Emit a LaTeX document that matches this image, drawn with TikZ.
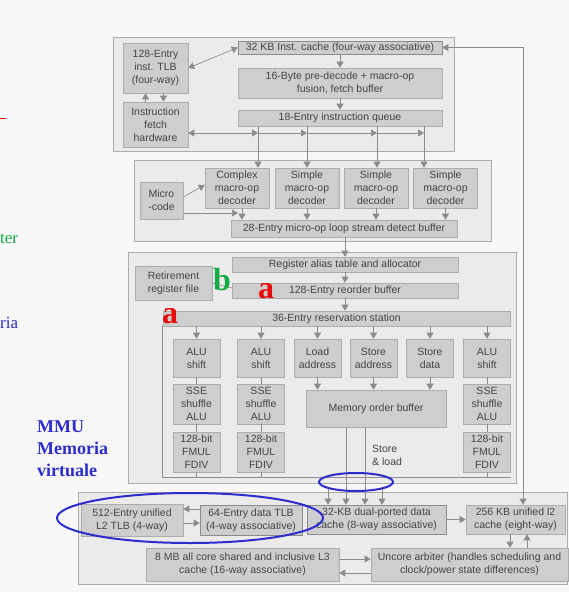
\documentclass[tikz,border=0pt]{standalone}
\usepackage{fontspec}
\setmainfont{Liberation Serif}
\setsansfont{Liberation Sans}
\usetikzlibrary{arrows.meta}
\definecolor{paper}{RGB}{248,248,248}
\definecolor{panelfill}{RGB}{235,235,235}
\definecolor{unitfill}{RGB}{206,206,206}
\definecolor{unitline}{RGB}{172,172,172}
\definecolor{wirecol}{RGB}{140,140,140}
\definecolor{ink}{RGB}{68,68,68}
\definecolor{mmublue}{RGB}{45,45,205}
\definecolor{tagred}{RGB}{230,10,10}
\definecolor{taggreen}{RGB}{20,170,70}
\tikzset{
  panel/.style={fill=panelfill,draw=unitline,line width=0.8pt},
  unit/.style={fill=unitfill,draw=unitline,line width=0.6pt,inner sep=0pt,align=center,
    text=ink,font=\sffamily\fontsize{10.5}{13}\selectfont},
  sz/.style 2 args={minimum width=#1,minimum height=#2},
  wire/.style={draw=wirecol,line width=0.7pt},
  arr/.style={wire,-{Triangle[width=7pt,length=6pt]}},
  darr/.style={wire,{Triangle[width=7pt,length=6pt]}-{Triangle[width=7pt,length=6pt]}},
  tag/.style={inner sep=0pt,font=\fontsize{32}{32}\selectfont\bfseries},
}
\begin{document}
\begin{tikzpicture}[x=1pt,y=-1pt]
    \fill[paper] (0,0) rectangle (569,592);
    \useasboundingbox (0,0) rectangle (569,592);
    % fetch
    \draw[panel] (113,37) rectangle (454,151);
    \node[unit,sz={65}{50}] (itlb) at (155.5,68) {128-Entry\\inst. TLB\\(four-way)};
    \node[unit,sz={65}{45}] (ifetch) at (155.5,124.5) {Instruction\\fetch\\hardware};
    \node[unit,sz={204}{13},draw=wirecol] (icache) at (340,47.5) {32 KB Inst. cache (four-way associative)};
    \node[unit,sz={204}{30}] (predec) at (340,83) {16-Byte pre-decode + macro-op\\fusion, fetch buffer};
    \node[unit,sz={204}{16}] (iq) at (340,118) {18-Entry instruction queue};
    \draw[darr] (itlb.east) -- (icache.west);
    \draw[arr] ([xshift=-10pt]ifetch.north) -- ([xshift=-10pt]itlb.south);
    \draw[arr] ([xshift=8pt]itlb.south) -- ([xshift=8pt]ifetch.north);
    \draw[arr] (icache) -- (predec);
    \draw[arr] (predec) -- (iq);
    \foreach \n/\x in {b1/258,b2/307,b3/377,b4/424} \coordinate (\n) at (\x,133);
    \draw[darr] ([yshift=-8.5pt]ifetch.east) -- (b1);
    \draw[arr] (b1) -- (b2);
    \draw[arr] (b2) -- (b3);
    \draw[arr] (b3) -- (b4);
    % decode
    \draw[panel] (134,160) rectangle (491,241);
    \node[unit,sz={43}{37}] (ucode) at (161.5,200.5) {Micro\\-code};
    \node[unit,sz={64}{40}] (cdec) at (237,188) {Complex\\macro-op\\decoder};
    \foreach \n/\x in {sdec1/307,sdec2/376,sdec3/445.5}
        \node[unit,sz={64}{40}] (\n) at (\x,188) {Simple\\macro-op\\decoder};
    \node[unit,sz={226}{17}] (lsd) at (344,228.5) {28-Entry micro-op loop stream detect buffer};
    \draw[arr] (iq.south -| b1) -- (cdec.north -| b1);
    \draw[arr] (iq.south -| b2) -- (sdec1.north -| b2);
    \draw[arr] (iq.south -| b3) -- (sdec2.north -| b3);
    \draw[arr] (iq.south -| b4) -- (sdec3.north -| b4);
    \draw[arr] ([yshift=3.5pt]ucode.east) -- ([yshift=3pt]cdec.west);
    \coordinate (mc) at (238,213);
    \draw[arr] (ucode.east |- mc) -- (mc);
    \coordinate (c1) at (242,0);
    \draw[arr] (cdec.south -| c1) -- (lsd.north -| c1);
    \foreach \n in {sdec1,sdec2,sdec3} \draw[arr] (\n.south) -- (\n.south |- lsd.north);
    % out of order core
    \draw[panel] (128,252) rectangle (516,483);
    \node[unit,sz={77}{34}] (rrf) at (173.5,283) {Retirement\\register file};
    \node[unit,sz={226}{15}] (rat) at (345,264.5) {Register alias table and allocator};
    \node[unit,sz={226}{15}] (rob) at (345,290.5) {128-Entry reorder buffer};
    \node[unit,sz={347}{15}] (rs) at (336.5,318.5) {36-Entry reservation station};
    \draw[arr] (lsd.south -| rat.north) -- (rat.north);
    \draw[arr] (rat) -- (rob);
    \draw[arr] (rob.south) -- (rob.south |- rs.north);
    \draw[wire] (rrf.east) -- ([yshift=2.5pt]rob.west);
    \foreach \n/\x/\t in {alu1/196.5/{ALU\\shift},alu2/261/{ALU\\shift},ld/317.5/{Load\\address},
        sta/373.5/{Store\\address},std/430/{Store\\data},alu3/487/{ALU\\shift}} {
        \node[unit,sz={47}{38}] (\n) at (\x,358) {\t};
        \draw[arr] (rs.south -| \n.north) -- (\n.north);
    }
    \coordinate (busr) at (511,477);
    \draw[wire] (rs.south west) |- (busr);
    \foreach \c/\x in {1/196.5,2/261,3/487} {
        \node[unit,sz={47}{40}] (sse\c) at (\x,404) {SSE\\shuffle\\ALU};
        \node[unit,sz={47}{40}] (fmul\c) at (\x,452) {128-bit\\FMUL\\FDIV};
        \draw[wire] (alu\c.south) -- (sse\c.north) (sse\c.south) -- (fmul\c.north)
            (fmul\c.south) -- (fmul\c.south |- busr);
    }
    \node[unit,sz={140}{37}] (mob) at (376,408.5) {Memory order buffer};
    \foreach \n in {ld,sta,std} \draw[arr] (\n.south) -- (\n.south |- mob.north);
    \node[anchor=west,align=left,inner sep=0pt,text=ink,font=\sffamily\fontsize{10.5}{13}\selectfont] (stld) at (372,455) {Store\\\& load};
    % memory
    \draw[panel] (78,492) rectangle (567,584);
    \node[unit,sz={102}{32}] (l2tlb) at (132,520) {512-Entry unified\\L2 TLB (4-way)};
    \node[unit,sz={102}{30},draw=wirecol] (dtlb) at (251,520) {64-Entry data TLB\\(4-way associative)};
    \node[unit,sz={139}{29},draw=wirecol] (dcache) at (376.5,519.5) {32-KB dual-ported data\\cache (8-way associative)};
    \node[unit,sz={99}{29}] (l2) at (515.5,519.5) {256 KB unified l2\\cache (eight-way)};
    \node[unit,sz={193}{33}] (l3) at (242.5,564.5) {8 MB all core shared and inclusive L3\\cache (16-way associative)};
    \node[unit,sz={197}{33}] (uncore) at (469.5,564.5) {Uncore arbiter (handles scheduling and\\clock/power state differences)};
    \foreach \n/\x in {m1/346,m2/365} {
        \coordinate (\n) at (\x,0);
        \draw[arr] (mob.south -| \n) -- (dcache.north -| \n);
    }
    \foreach \n/\x in {p1/328,p2/382} {
        \coordinate (\n) at (\x,487);
        \draw[arr] (\n) -- (dcache.north -| \n);
    }
    \draw[arr] ([yshift=11pt]dtlb.west) -- ([yshift=11pt]dtlb.west -| l2tlb.east);
    \draw[arr] ([yshift=-3pt]l2tlb.east) -- ([yshift=-3pt]l2tlb.east -| dtlb.west);
    \draw[arr] (dcache) -- (l2);
    \coordinate (rl) at (523,47.5);
    \draw[darr] (icache.east) -| (l2.north -| rl);
    \coordinate (u1) at (510,0);
    \coordinate (u2) at (527,0);
    \draw[arr] (l2.south -| u1) -- (uncore.north -| u1);
    \draw[arr] (uncore.north -| u2) -- (l2.south -| u2);
    \draw[arr] ([yshift=5.5pt]l3.east) -- ([yshift=5.5pt]l3.east -| uncore.west);
    \draw[arr] ([yshift=-8.5pt]uncore.west) -- ([yshift=-8.5pt]uncore.west -| l3.east);
    % slide notes
    \draw[mmublue,line width=2pt] (190,518) ellipse [x radius=133pt,y radius=25pt];
    \draw[mmublue,line width=2pt] (356,482) ellipse [x radius=37pt,y radius=9pt];
    \node[tag,text=tagred] (ra1) at (266,291) {a};
    \node[tag,text=tagred] (ra2) at (170,316) {a};
    \node[tag,text=taggreen] (gb) at (222,280) {b};
    \node[anchor=north west,align=left,inner sep=0pt,text=mmublue,font=\fontsize{18}{22}\selectfont\bfseries] (mmu) at (37,421) {MMU\\Memoria\\virtuale};
    \node[anchor=base west,inner sep=0pt,text=taggreen,font=\fontsize{17}{17}\selectfont] (frag1) at (0,243) {ter};
    \node[anchor=base west,inner sep=0pt,text=mmublue,font=\fontsize{17}{17}\selectfont] (frag2) at (0,328) {ria};
    \draw[tagred,line width=1pt] (0,118) -- (6,118);
\end{tikzpicture}
\end{document}
